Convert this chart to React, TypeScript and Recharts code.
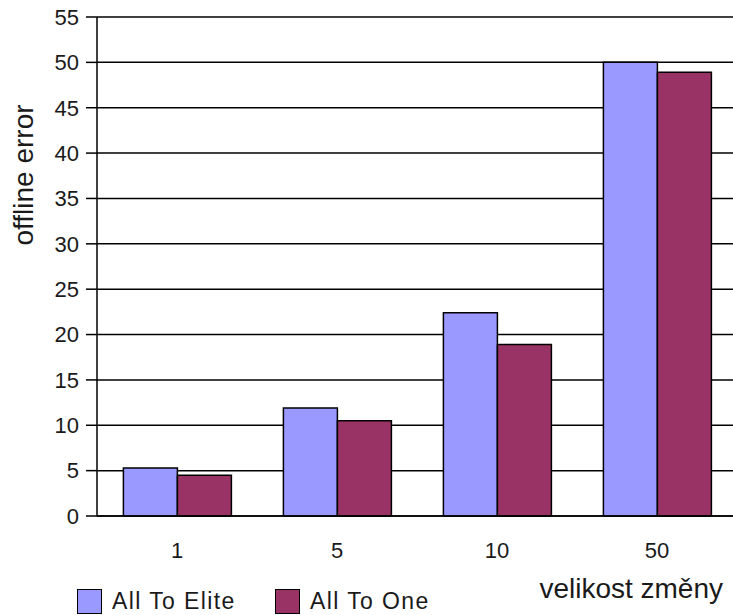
import { Bar, BarChart, CartesianGrid, XAxis, YAxis } from 'recharts';

const categories = ['1', '5', '10', '50'];
const allToElite = [5.3, 11.9, 22.4, 50];
const allToOne = [4.5, 10.5, 18.9, 48.9];
const seriesNames = ['All To Elite', 'All To One'];
const seriesColors = ['#9999ff', '#993366'];
const yTicks = [0, 5, 10, 15, 20, 25, 30, 35, 40, 45, 50, 55];
const boundaryTicks = [0, 1, 2, 3, 4];

const data = categories.map((c, i) => ({ cat: c, elite: allToElite[i], one: allToOne[i] }));

const font = '"Liberation Sans", Arial, sans-serif';
const textColor = '#1a1a1a';

export default function App() {
  return (
    <div style={{ position: 'absolute', left: 0, top: 0, width: 733, height: 615, overflow: 'hidden', background: '#fff', fontFamily: font }}>
      <BarChart
        width={760}
        height={615}
        data={data}
        margin={{ top: 17, right: 23, left: 0, bottom: 0 }}
        barCategoryGap="16.5%"
        barGap={0}
      >
        <CartesianGrid vertical={false} stroke="#000" strokeWidth={1.5} />
        <XAxis
          xAxisId="b"
          type="number"
          domain={[0, 4]}
          allowDataOverflow
          ticks={boundaryTicks}
          tickSize={11}
          tickFormatter={() => ''}
          axisLine={false}
          tickLine={{ stroke: '#000', strokeWidth: 1.5 }}
          height={0}
        />
        <XAxis
          dataKey="cat"
          height={99}
          tickSize={0}
          tickMargin={26}
          axisLine={{ stroke: '#000', strokeWidth: 1.5 }}
          tickLine={false}
          tick={{ fill: textColor, fontSize: 22, fontFamily: font }}
          label={{
            content: () => (
              <text x={723} y={598} textAnchor="end" fontSize={28} fill={textColor} fontFamily={font}>
                velikost změny
              </text>
            ),
          }}
        />
        <YAxis
          width={97}
          domain={[0, 55]}
          ticks={yTicks}
          interval={0}
          tickSize={11}
          tickMargin={7}
          axisLine={{ stroke: '#000', strokeWidth: 1.5 }}
          tickLine={{ stroke: '#000', strokeWidth: 1.5 }}
          tick={{ fill: textColor, fontSize: 22, fontFamily: font }}
          label={{
            content: () => (
              <text x={33} y={175} transform="rotate(-90 33 175)" textAnchor="middle" fontSize={28} fill={textColor} fontFamily={font}>
                offline error
              </text>
            ),
          }}
        />
        <Bar dataKey="elite" name={seriesNames[0]} fill={seriesColors[0]} stroke="#000" strokeWidth={1.5} isAnimationActive={false} />
        <Bar dataKey="one" name={seriesNames[1]} fill={seriesColors[1]} stroke="#000" strokeWidth={1.5} isAnimationActive={false} />
      </BarChart>
      <div style={{ position: 'absolute', left: 77, top: 588, display: 'flex', alignItems: 'center' }}>
        {seriesNames.map((n, i) => (
          <div key={n} style={{ display: 'flex', alignItems: 'center', width: 198 }}>
            <span style={{ display: 'inline-block', width: 23, height: 23, background: seriesColors[i], border: '1.5px solid #000', marginRight: 10 }} />
            <span style={{ fontSize: 23, color: textColor, lineHeight: '26px', letterSpacing: 1.4 }}>{n}</span>
          </div>
        ))}
      </div>
    </div>
  );
}
